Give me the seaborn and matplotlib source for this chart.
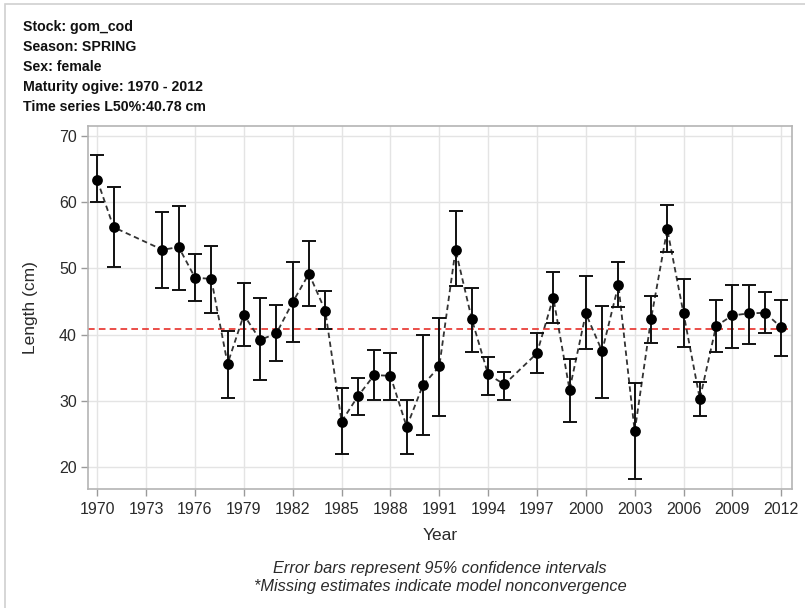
import matplotlib
matplotlib.use("Agg")
import matplotlib.pyplot as plt
import seaborn as sns
import pandas as pd
from matplotlib.patches import Rectangle

years = [1970, 1971, 1974, 1975, 1976, 1977, 1978, 1979, 1980, 1981, 1982,
         1983, 1984, 1985, 1986, 1987, 1988, 1989, 1990, 1991, 1992, 1993,
         1994, 1995, 1997, 1998, 1999, 2000, 2001, 2002, 2003, 2004, 2005,
         2006, 2007, 2008, 2009, 2010, 2011, 2012]
l50 = [63.3, 56.2, 52.8, 53.2, 48.6, 48.4, 35.6, 43.0, 39.2, 40.2, 44.9,
       49.2, 43.6, 26.9, 30.7, 33.9, 33.8, 26.1, 32.4, 35.2, 52.8, 42.3,
       34.0, 32.5, 37.2, 45.6, 31.7, 43.2, 37.5, 47.5, 25.4, 42.3, 55.9,
       43.2, 30.3, 41.3, 42.9, 43.2, 43.3, 41.1]
lower = [60.0, 50.2, 47.0, 46.8, 45.1, 43.3, 30.5, 38.3, 33.1, 36.0, 38.9,
         44.3, 40.8, 22.0, 27.9, 30.1, 30.1, 22.0, 24.9, 27.8, 47.3, 37.4,
         30.9, 30.1, 34.2, 41.7, 26.8, 37.9, 30.5, 44.1, 18.3, 38.7, 52.4,
         38.2, 27.8, 37.4, 38.0, 38.6, 40.3, 36.8]
upper = [67.1, 62.2, 58.5, 59.4, 52.1, 53.3, 40.6, 47.8, 45.5, 44.5, 50.9,
         54.1, 46.6, 31.9, 33.4, 37.7, 37.3, 30.2, 40.0, 42.5, 58.6, 47.1,
         36.7, 34.3, 40.2, 49.5, 36.3, 48.9, 44.3, 51.0, 32.7, 45.8, 59.5,
         48.4, 32.9, 45.2, 47.5, 47.5, 46.5, 45.2]
ts_l50 = 40.78
header = ["Stock: gom_cod", "Season: SPRING", "Sex: female",
          "Maturity ogive: 1970 - 2012", "Time series L50%:40.78 cm"]
xticks = list(range(1970, 2013, 3))
yticks = [20, 30, 40, 50, 60, 70]

df = pd.DataFrame({"Year": years, "L50": l50, "lo": lower, "hi": upper})

sns.set_theme(style="whitegrid")
plt.rcParams['font.family'] = ['Liberation Sans', 'DejaVu Sans']

fig = plt.figure(figsize=(8.05, 6.08), dpi=100)
ax = fig.add_axes([88/805, 1-489/608, (792-88)/805, (489-126)/608])

# figure border (top/left visible)
fig.patches.append(Rectangle((5/805, -0.05), 1.1, 1 - 4.5/608 + 0.05,
                             transform=fig.transFigure, fill=False,
                             edgecolor='#d0d0d0', linewidth=1.2))

ax.axhline(ts_l50, color='#e8302a', linestyle=(0, (4, 2.5)), linewidth=1.2, zorder=2)

sns.lineplot(data=df, x="Year", y="L50", ax=ax, color='#333333',
             linestyle=(0, (3, 2)), linewidth=1.3, zorder=3)
ax.errorbar(df["Year"], df["L50"],
            yerr=[df["L50"] - df["lo"], df["hi"] - df["L50"]],
            fmt='none', ecolor='#111111', elinewidth=1.4, capsize=5,
            capthick=1.4, zorder=4)
sns.scatterplot(data=df, x="Year", y="L50", ax=ax, color='black', s=60,
                edgecolor='black', linewidth=0, zorder=5)

ax.set_xlim(1969.43, 2012.66)
ax.set_ylim(16.73, 71.46)
ax.set_xticks(xticks)
ax.set_yticks(yticks)
ax.grid(True, color='#e4e4e4', linewidth=1.0)
ax.set_axisbelow(True)
for sp in ax.spines.values():
    sp.set_color('#b4b4b4')
    sp.set_linewidth(1.2)
ax.tick_params(axis='both', which='major', length=5, width=1, color='#9a9a9a',
               labelsize=11.5, labelcolor='#2a2a2a', pad=4, bottom=True, left=True)
ax.tick_params(axis='y', pad=3)
ax.set_xlabel("Year", fontsize=12.5, color='#2a2a2a', labelpad=8)
ax.set_ylabel("Length (cm)", fontsize=12.5, color='#2a2a2a', labelpad=15)

for i, h in enumerate(header):
    fig.text(23/805, 1 - (27 + 20*i)/608, h, fontsize=10.2, fontweight='bold',
             color='#111111', va='center', ha='left')

fig.text(440/805, 1 - 568/608, "Error bars represent 95% confidence intervals",
         fontsize=11.8, style='italic', color='#2a2a2a', ha='center', va='center')
fig.text(440/805, 1 - 587/608, "*Missing estimates indicate model nonconvergence",
         fontsize=11.8, style='italic', color='#2a2a2a', ha='center', va='center')

fig.savefig("out.png", dpi=100)
